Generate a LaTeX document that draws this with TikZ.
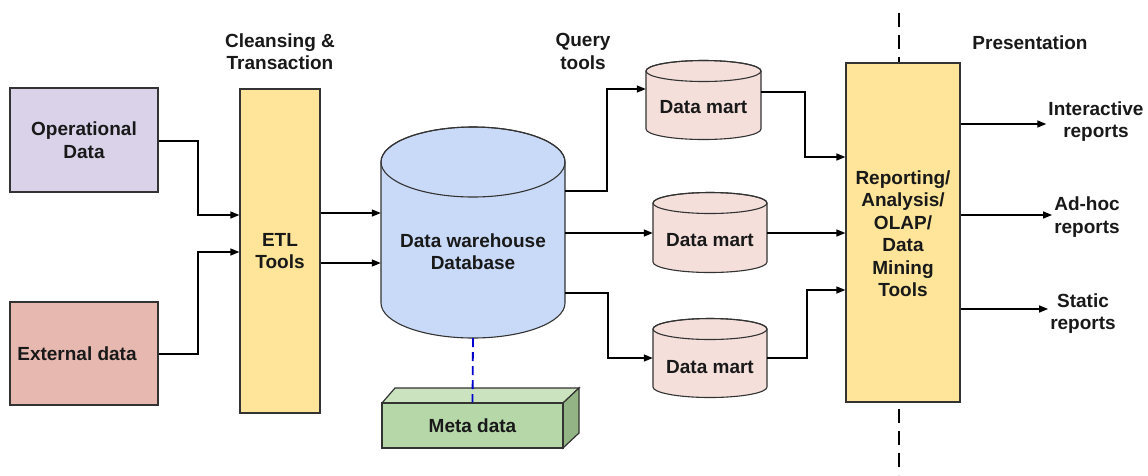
\documentclass[tikz,border=0pt]{standalone}
\usepackage{fontspec}
\setmainfont{Liberation Sans}
\usetikzlibrary{arrows.meta}
\definecolor{opfill}{HTML}{D9D2E9}
\definecolor{extfill}{HTML}{E6B8AF}
\definecolor{yel}{HTML}{FFE599}
\definecolor{dwfill}{HTML}{C9DAF8}
\definecolor{dmfill}{HTML}{F4DFDB}
\definecolor{metafront}{HTML}{B6D7A8}
\definecolor{metatop}{HTML}{CBE4BF}
\definecolor{metaside}{HTML}{93B485}
\definecolor{edge}{HTML}{333333}
\begin{document}
\begin{tikzpicture}[x=1pt,y=-1pt,
  every node/.style={font=\fontsize{19}{22.5}\selectfont\bfseries, text=black!90, align=center},
  box/.style={draw=edge, line width=1.2pt},
  ghost/.style={draw=none, inner sep=0pt},
  arr/.style={line width=1.4pt, -{Triangle[length=9pt,width=7pt]}},
  cylline/.style={draw=edge, line width=1.1pt}
]
\path[fill=white] (0,0) rectangle (1148,475);
\useasboundingbox (0,0) rectangle (1148,475);

% dashed separator (drawn first, the reporting box covers its middle)
\coordinate (vtop) at (899,13);
\coordinate (vbot) at (899,475);
\draw[line width=1.6pt, dash pattern=on 14pt off 8pt] (vtop) -- (vbot);

% left boxes
\node[box, fill=opfill, minimum width=148pt, minimum height=104pt] (op) at (84,140) {Operational\\Data};
\node[box, fill=extfill, minimum width=148pt, minimum height=103pt] (ext) at (84,353.5) {};
\node (extt) at (77,354) {External data};
\node[box, fill=yel, minimum width=80pt, minimum height=324pt] (etl) at (280,251) {ETL\\Tools};

% data warehouse cylinder
\node[ghost, minimum width=184pt, minimum height=211pt] (dw) at (473,232.5) {};
\path[cylline, fill=dwfill] (381,162) -- (381,303) arc[start angle=180, end angle=360, x radius=92pt, y radius=35pt] -- (565,162) arc[start angle=0, end angle=180, x radius=92pt, y radius=35pt] -- cycle;
\draw[cylline] (473,162) ellipse[x radius=92pt, y radius=35pt];
\node (dwt) at (473,251.5) {Data warehouse\\Database};

% data marts
\node[ghost, minimum width=115pt, minimum height=78pt] (dm1) at (703.5,100) {};
\path[cylline, fill=dmfill] (646,71) -- (646,129) arc[start angle=180, end angle=360, x radius=57.5pt, y radius=10.5pt] -- (761,71) arc[start angle=0, end angle=180, x radius=57.5pt, y radius=10.5pt] -- cycle;
\draw[cylline] (703.5,71) ellipse[x radius=57.5pt, y radius=10.5pt];
\node (dm1t) at (703.5,107) {Data mart};

\node[ghost, minimum width=114pt, minimum height=81pt] (dm2) at (710,232.5) {};
\path[cylline, fill=dmfill] (653,203) -- (653,262) arc[start angle=180, end angle=360, x radius=57pt, y radius=10.5pt] -- (767,203) arc[start angle=0, end angle=180, x radius=57pt, y radius=10.5pt] -- cycle;
\draw[cylline] (710,203) ellipse[x radius=57pt, y radius=10.5pt];
\node (dm2t) at (710,240) {Data mart};

\node[ghost, minimum width=114pt, minimum height=80pt] (dm3) at (710,358) {};
\path[cylline, fill=dmfill] (653,329) -- (653,387) arc[start angle=180, end angle=360, x radius=57pt, y radius=10.5pt] -- (767,329) arc[start angle=0, end angle=180, x radius=57pt, y radius=10.5pt] -- cycle;
\draw[cylline] (710,329) ellipse[x radius=57pt, y radius=10.5pt];
\node (dm3t) at (710,367) {Data mart};

% meta data 3D box
\path[box, fill=metatop] (382,403) -- (395,388) -- (579,388) -- (563,403) -- cycle;
\path[box, fill=metaside] (563,403) -- (579,388) -- (579,433) -- (563,448) -- cycle;
\node[box, fill=metafront, minimum width=181pt, minimum height=45pt] (meta) at (472.5,425.5) {Meta data};

% reporting box
\node[box, fill=yel, minimum width=114pt, minimum height=339pt] (rep) at (903,232.5) {};
\node (rept) at (903,233.5) {Reporting/\\Analysis/\\OLAP/\\Data\\Mining\\Tools};

% top labels
\node (cl) at (280,51.5) {Cleansing \&\\Transaction};
\node (qt) at (583,51.5) {Query\\tools};
\node (pres) at (1030,43) {Presentation};

% output labels
\node[inner sep=2pt] (inter) at (1096,121.5) {Interactive\\reports};
\node[inner sep=2pt] (adhoc) at (1087,217) {Ad-hoc\\reports};
\node[inner sep=2pt] (static) at (1083,313.5) {Static\\reports};

% connectors
\draw[arr] (op.east |- 0,141) -- (198,141) -- (198,215) -- (etl.west |- 0,215);
\draw[arr] (ext.east |- 0,354) -- (198,354) -- (198,252) -- (etl.west |- 0,252);
\draw[arr] (etl.east |- 0,213) -- (dw.west |- 0,213);
\draw[arr] (etl.east |- 0,263) -- (dw.west |- 0,263);
\draw[arr] (dw.east |- 0,191) -- (607,191) -- (607,89) -- (dm1.west |- 0,89);
\draw[arr] (dw.east |- 0,233) -- (dm2.west |- 0,233);
\draw[arr] (dw.east |- 0,293) -- (608,293) -- (608,358) -- (dm3.west |- 0,358);
\draw[arr] (dm1.east |- 0,92) -- (805,92) -- (805,157) -- (rep.west |- 0,157);
\draw[arr] (dm2.east |- 0,233) -- (rep.west |- 0,233);
\draw[arr] (dm3.east |- 0,358) -- (807,358) -- (807,290) -- (rep.west |- 0,290);
\draw[arr] (rep.east |- 0,124) -- (inter.west |- 0,124);
\draw[arr] (rep.east |- 0,215) -- (adhoc.west |- 0,215);
\draw[arr] (rep.east |- 0,309) -- (static.west |- 0,309);

% metadata link
\draw[line width=1.8pt, draw=blue!80!black, dash pattern=on 9pt off 5pt] (dw.south) -- (meta.north);
\end{tikzpicture}
\end{document}
